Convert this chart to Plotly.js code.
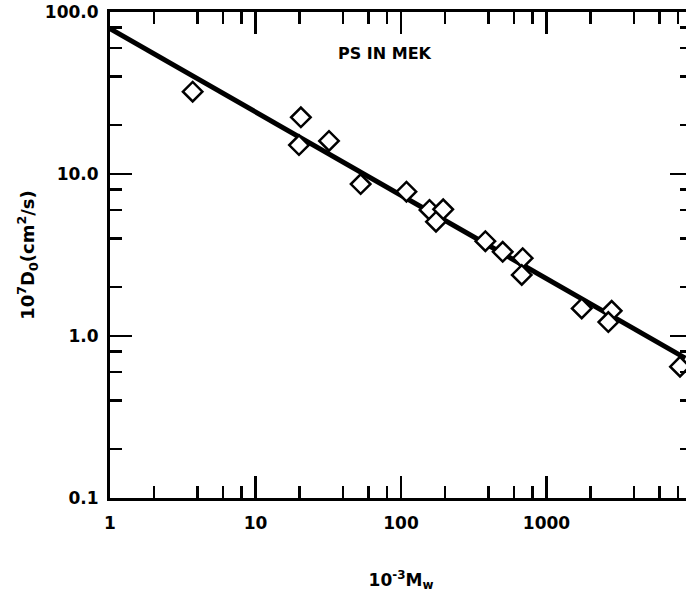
<!DOCTYPE html>
<html>
<head>
<meta charset="utf-8">
<script src="https://cdn.plot.ly/plotly-3.0.1.min.js"></script>
<style>
html,body{margin:0;padding:0;overflow:hidden;background:#fff;}
#chart{width:692px;height:600px;}
</style>
</head>
<body>
<div id="chart"></div>
<script>
// Data (10^-3 Mw, 10^7 D0 in cm^2/s)
const mw = [3.7, 20.5, 19.9, 32.0, 52.8, 109, 157, 195, 174, 380, 500, 686, 676, 1746, 2805, 2660, 8270];
const d0 = [32.2, 22.4, 15.1, 16.0, 8.67, 7.78, 6.0, 6.05, 5.08, 3.85, 3.31, 3.02, 2.38, 1.48, 1.43, 1.22, 0.647];
// Fit line endpoints
const fitX = [1, 9000];
const fitY = [79, 0.73];
// Tick values / labels
const xTickVals = [1, 10, 100, 1000];
const xTickText = ['1', '10', '100', '1000'];
const xMinorVals = [2, 4, 6, 8, 20, 40, 60, 80, 200, 400, 600, 800, 2000, 4000, 6000, 8000];
const yTickVals = [0.1, 1, 10, 100];
const yTickText = ['0.1', '1.0', '10.0', '100.0'];
const yMinorVals = [0.2, 0.4, 0.6, 0.8, 2, 4, 6, 8, 20, 40, 60, 80];

const FONT = 'DejaVu Sans, Verdana, sans-serif';
const black = '#000';

const traces = [
  {x: fitX, y: fitY, mode: 'lines', type: 'scatter', line: {color: black, width: 5}, hoverinfo: 'skip', showlegend: false},
  {x: mw, y: d0, mode: 'markers', type: 'scatter', showlegend: false,
   marker: {symbol: 'diamond', size: 15, color: '#fff', line: {color: black, width: 2.5}}}
];

const minorX = {tickmode: 'array', tickvals: xMinorVals, ticks: 'inside', ticklen: 12, tickwidth: 2.5, tickcolor: black};
const minorY = {tickmode: 'array', tickvals: yMinorVals, ticks: 'inside', ticklen: 12, tickwidth: 2.5, tickcolor: black};

const layout = {
  width: 692, height: 600,
  margin: {l: 110, r: 0, t: 12, b: 102},
  paper_bgcolor: '#fff', plot_bgcolor: '#fff',
  font: {family: FONT, color: black},
  showlegend: false,
  xaxis: {
    type: 'log', range: [0, 4], showgrid: false, zeroline: false,
    showline: true, linecolor: black, linewidth: 3,
    ticks: 'inside', ticklen: 22, tickwidth: 2.5, tickcolor: black,
    tickmode: 'array', tickvals: xTickVals, ticktext: xTickText,
    tickfont: {family: FONT, size: 17, color: black, weight: 'bold'},
    ticklabelstandoff: 8,
    minor: minorX,
    title: {text: '<b>10<sup>-3</sup>M<sub>w</sub></b>', font: {family: FONT, size: 17, color: black}, standoff: 42}
  },
  xaxis2: {
    type: 'log', range: [0, 4], overlaying: 'x', side: 'top', anchor: 'y',
    showgrid: false, zeroline: false, showline: true, linecolor: black, linewidth: 3,
    ticks: 'inside', ticklen: 22, tickwidth: 2.5, tickcolor: black,
    tickmode: 'array', tickvals: xTickVals, showticklabels: false,
    minor: minorX
  },
  yaxis: {
    type: 'log', range: [-1, 2], showgrid: false, zeroline: false,
    showline: true, linecolor: black, linewidth: 3,
    ticks: 'inside', ticklen: 22, tickwidth: 2.5, tickcolor: black,
    tickmode: 'array', tickvals: yTickVals, ticktext: yTickText,
    tickfont: {family: FONT, size: 17, color: black, weight: 'bold'},
    ticklabelstandoff: 5,
    minor: minorY,
    title: {text: '<b>10<sup>7</sup>D<sub>0</sub>(cm<sup>2</sup>/s)</b>', font: {family: FONT, size: 18, color: black}, standoff: 6}
  },
  yaxis2: {
    type: 'log', range: [-1, 2], overlaying: 'y', side: 'right', anchor: 'x',
    showgrid: false, zeroline: false, showline: false,
    ticks: 'inside', ticklen: 22, tickwidth: 2.5, tickcolor: black,
    tickmode: 'array', tickvals: yTickVals, showticklabels: false,
    minor: minorY
  },
  annotations: [
    {text: '<b>PS IN MEK</b>', xref: 'paper', yref: 'paper', x: 0.4725, y: 0.915, showarrow: false,
     xanchor: 'center', yanchor: 'middle', font: {family: FONT, size: 16, color: black}}
  ]
};

// dummy trace to activate overlay axes
traces.push({x: [1], y: [1], xaxis: 'x2', yaxis: 'y2', mode: 'markers', marker: {opacity: 0}, hoverinfo: 'skip', showlegend: false});

Plotly.newPlot('chart', traces, layout, {displayModeBar: false, staticPlot: true});
</script>
</body>
</html>
